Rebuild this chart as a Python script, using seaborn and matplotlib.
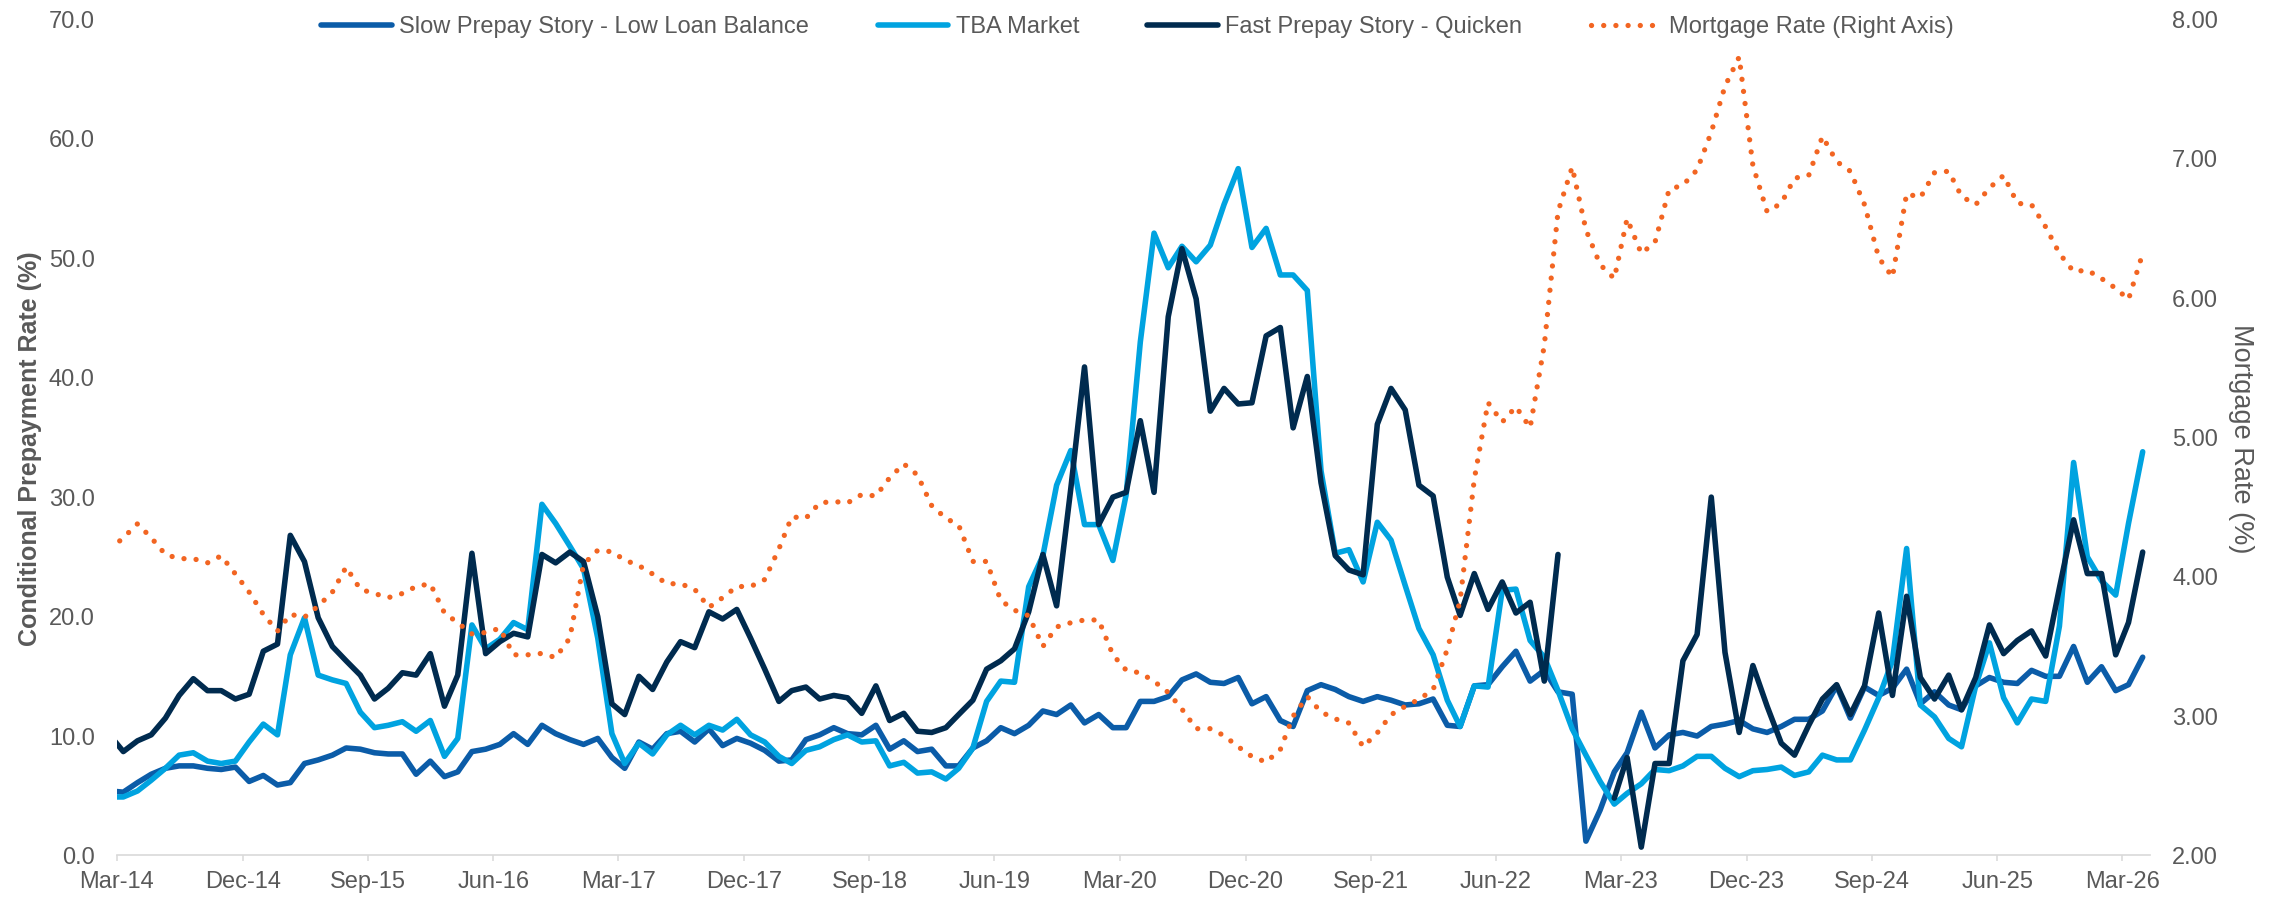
import numpy as np
import pandas as pd
import matplotlib
matplotlib.use("Agg")
import matplotlib.pyplot as plt
import matplotlib.dates as mdates
from matplotlib.ticker import FormatStrFormatter, MultipleLocator
import seaborn as sns

# monthly observations, Feb-14 .. Apr-26 (mid-month)
months = pd.date_range("2014-02-01", "2026-04-01", freq="MS") + pd.Timedelta(days=14)

slow_low_balance = [
    5.4, 5.3, 6.1, 6.8, 7.3, 7.5, 7.5, 7.3, 7.2, 7.4, 6.2, 6.7, 5.9, 6.1, 7.7, 8.0, 8.4, 9.0, 8.9, 8.6,
    8.5, 8.5, 6.8, 7.9, 6.6, 7.0, 8.7, 8.9, 9.3, 10.2, 9.3, 10.9, 10.2, 9.7, 9.3, 9.8, 8.2, 7.3, 9.5, 8.9,
    10.2, 10.4, 9.5, 10.6, 9.2, 9.8, 9.4, 8.8, 7.9, 8.0, 9.7, 10.1, 10.7, 10.2, 10.1, 10.9, 8.9, 9.6, 8.7, 8.9,
    7.5, 7.5, 9.0, 9.6, 10.7, 10.2, 10.9, 12.1, 11.8, 12.6, 11.1, 11.8, 10.7, 10.7, 12.9, 12.9, 13.3, 14.7, 15.2, 14.5,
    14.4, 14.9, 12.7, 13.3, 11.3, 10.8, 13.8, 14.3, 13.9, 13.3, 12.9, 13.3, 13.0, 12.6, 12.7, 13.1, 10.9, 10.8, 14.2, 14.3,
    15.8, 17.1, 14.6, 15.5, 13.7, 13.5, 1.2, 3.8, 7.0, 8.6, 12.0, 9.0, 10.1, 10.3, 10.0, 10.8, 11.0, 11.3, 10.6, 10.3,
    10.8, 11.4, 11.4, 12.1, 14.2, 11.5, 14.1, 13.4, 14.0, 15.6, 12.7, 13.7, 12.6, 12.2, 14.2, 14.9, 14.5, 14.4, 15.5, 15.0,
    15.0, 17.5, 14.5, 15.8, 13.8, 14.3, 16.6,
]

tba_market = [
    4.9, 4.9, 5.4, 6.3, 7.3, 8.4, 8.6, 7.9, 7.7, 7.9, 9.5, 11.0, 10.1, 16.8, 19.9, 15.1, 14.7, 14.4, 12.0, 10.7,
    10.9, 11.2, 10.4, 11.3, 8.3, 9.8, 19.3, 17.3, 18.1, 19.5, 18.9, 29.4, 27.8, 25.9, 24.0, 18.2, 10.2, 7.7, 9.4, 8.5,
    10.1, 10.9, 10.1, 10.9, 10.5, 11.4, 10.1, 9.5, 8.3, 7.7, 8.8, 9.1, 9.7, 10.1, 9.5, 9.6, 7.5, 7.8, 6.9, 7.0,
    6.4, 7.3, 9.0, 12.9, 14.6, 14.5, 22.5, 25.1, 31.0, 33.9, 27.7, 27.7, 24.7, 30.2, 43.0, 52.1, 49.2, 51.0, 49.7, 51.1,
    54.5, 57.5, 50.9, 52.5, 48.6, 48.6, 47.3, 32.2, 25.3, 25.6, 22.9, 27.9, 26.4, 22.6, 19.0, 16.8, 13.0, 10.8, 14.2, 14.1,
    22.2, 22.3, 18.0, 16.6, 13.8, 10.6, 8.4, 6.2, 4.3, 5.2, 6.0, 7.2, 7.1, 7.5, 8.3, 8.3, 7.3, 6.6, 7.1, 7.2,
    7.4, 6.7, 7.0, 8.4, 8.0, 8.0, 10.5, 13.2, 16.3, 25.7, 12.6, 11.6, 9.8, 9.1, 14.2, 17.8, 13.2, 11.1, 13.1, 12.9,
    19.2, 32.9, 25.0, 23.0, 21.8, 27.8, 33.8,
]

fast_quicken = [
    10.0, 8.7, 9.6, 10.1, 11.5, 13.4, 14.8, 13.8, 13.8, 13.1, 13.5, 17.1, 17.7, 26.8, 24.6, 19.9, 17.5, 16.3, 15.1, 13.1,
    14.0, 15.3, 15.1, 16.9, 12.5, 15.1, 25.3, 16.9, 17.9, 18.6, 18.3, 25.2, 24.5, 25.4, 24.6, 20.0, 12.7, 11.8, 15.0, 13.9,
    16.2, 17.9, 17.4, 20.4, 19.8, 20.6, 18.2, 15.6, 12.9, 13.8, 14.1, 13.1, 13.4, 13.2, 11.9, 14.2, 11.3, 11.9, 10.4, 10.3,
    10.7, 11.8, 13.0, 15.6, 16.3, 17.3, 20.4, 25.2, 20.9, 30.7, 40.9, 27.7, 30.0, 30.4, 36.4, 30.4, 45.1, 50.8, 46.6, 37.2,
    39.1, 37.8, 37.9, 43.5, 44.2, 35.8, 40.1, 31.2, 25.1, 23.9, 23.5, 36.1, 39.1, 37.3, 31.0, 30.1, 23.3, 20.1, 23.6, 20.6,
    22.9, 20.3, 21.2, 14.6, 25.2, np.nan, np.nan, np.nan, 4.8, 8.2, 0.7, 7.7, 7.7, 16.3, 18.5, 30.0, 17.0, 10.3, 15.9, 12.5,
    9.4, 8.4, 10.9, 13.1, 14.3, 11.8, 14.2, 20.3, 13.4, 21.7, 14.9, 13.1, 15.1, 12.2, 14.9, 19.3, 16.9, 18.0, 18.8, 16.7,
    22.4, 28.1, 23.6, 23.6, 16.8, 19.5, 25.4,
]

mortgage_rate = [
    4.20, 4.28, 4.38, 4.28, 4.16, 4.13, 4.13, 4.10, 4.15, 4.02, 3.89, 3.73, 3.61, 3.73, 3.71, 3.79, 3.89, 4.07, 3.91, 3.88,
    3.85, 3.88, 3.93, 3.95, 3.74, 3.67, 3.59, 3.60, 3.63, 3.44, 3.44, 3.45, 3.42, 3.56, 4.09, 4.19, 4.18, 4.12, 4.08, 4.02,
    3.95, 3.95, 3.91, 3.78, 3.85, 3.93, 3.93, 3.98, 4.20, 4.43, 4.42, 4.53, 4.54, 4.53, 4.59, 4.58, 4.71, 4.81, 4.73, 4.51,
    4.42, 4.37, 4.11, 4.11, 3.83, 3.76, 3.72, 3.50, 3.64, 3.67, 3.69, 3.69, 3.44, 3.33, 3.31, 3.25, 3.17, 3.05, 2.91, 2.91,
    2.86, 2.78, 2.71, 2.67, 2.76, 3.00, 3.14, 3.03, 2.98, 2.95, 2.78, 2.88, 3.01, 3.07, 3.12, 3.19, 3.48, 3.83, 4.70, 5.25,
    5.11, 5.22, 5.07, 5.66, 6.62, 6.94, 6.49, 6.24, 6.14, 6.57, 6.32, 6.40, 6.78, 6.81, 6.92, 7.19, 7.52, 7.73, 6.95, 6.62,
    6.68, 6.86, 6.88, 7.16, 6.98, 6.91, 6.67, 6.29, 6.15, 6.75, 6.72, 6.90, 6.91, 6.73, 6.67, 6.79, 6.88, 6.68, 6.67, 6.51,
    6.32, 6.19, 6.20, 6.14, 6.07, 5.99, 6.32,
]

tick_dates = pd.date_range("2014-03-01", "2026-03-01", freq="9MS")

df = pd.DataFrame({
    "date": months,
    "slow": slow_low_balance,
    "tba": tba_market,
    "fast": fast_quicken,
    "mortgage": mortgage_rate,
})

GREY = "#595959"
C_SLOW = "#0B5CA8"
C_TBA = "#00A3E0"
C_FAST = "#002B4F"
C_RATE = "#F26522"

sns.set_theme(style="white")
plt.rcParams["font.family"] = ["Liberation Sans", "DejaVu Sans"]

fig, ax = plt.subplots(figsize=(22.79, 8.99), dpi=100)
fig.subplots_adjust(left=0.0513, right=0.9434, bottom=0.0484, top=0.9785)
ax2 = ax.twinx()

lw = 4.0
sns.lineplot(data=df, x="date", y="slow", ax=ax, color=C_SLOW, lw=lw, label="Slow Prepay Story - Low Loan Balance", legend=False)
sns.lineplot(data=df, x="date", y="tba", ax=ax, color=C_TBA, lw=lw, label="TBA Market", legend=False)

# the fast series has a gap in late 2022, draw each continuous run separately
fast = df[["date", "fast"]].copy()
fast["run"] = fast["fast"].isna().cumsum()
first = True
for _, seg in fast.dropna().groupby("run"):
    sns.lineplot(data=seg, x="date", y="fast", ax=ax, color=C_FAST, lw=lw,
                 label="Fast Prepay Story - Quicken" if first else None, legend=False)
    first = False

sns.lineplot(data=df, x="date", y="mortgage", ax=ax2, color=C_RATE, lw=3.8,
             label="Mortgage Rate (Right Axis)", legend=False)
for ln in ax2.lines:
    ln.set_dashes([0.01, 2.3])
    ln.set_dash_capstyle("round")

# axes ranges and ticks
ax.set_xlim(pd.Timestamp("2014-03-01"), pd.Timestamp("2026-05-01"))
ax.set_ylim(0, 70)
ax2.set_ylim(2, 8)
ax.yaxis.set_major_locator(MultipleLocator(10))
ax2.yaxis.set_major_locator(MultipleLocator(1))
ax.yaxis.set_major_formatter(FormatStrFormatter("%.1f"))
ax2.yaxis.set_major_formatter(FormatStrFormatter("%.2f"))
ax.set_xticks(tick_dates)
ax.xaxis.set_major_formatter(mdates.DateFormatter("%b-%y"))

for a in (ax, ax2):
    for s in a.spines.values():
        s.set_visible(False)
    a.grid(False)
ax.spines["bottom"].set_visible(True)
ax.spines["bottom"].set_color("#D9D9D9")
ax.spines["bottom"].set_linewidth(1.2)

ax.tick_params(axis="x", bottom=True, length=4.5, width=1.1, color="#D9D9D9",
               labelsize=17, labelcolor=GREY, pad=7)
ax.tick_params(axis="y", left=False, length=0, labelsize=17, labelcolor=GREY, pad=16)
ax2.tick_params(axis="y", right=False, length=0, labelsize=17, labelcolor=GREY, pad=16)

ax.set_xlabel("")
ax.set_ylabel("Conditional Prepayment Rate (%)", fontsize=18, fontweight="bold", color=GREY)
ax.yaxis.set_label_coords(-0.037, 0.487)
ax2.set_ylabel("Mortgage Rate (%)", fontsize=19.5, color=GREY, rotation=270, va="center")
ax2.yaxis.set_label_coords(1.0448, 0.498)

handles = ax.get_lines() + ax2.get_lines()
handles = [h for h in handles if not h.get_label().startswith("_")]
fig.legend(handles=handles, labels=[h.get_label() for h in handles], loc="center",
           bbox_to_anchor=(0.4991, 0.970), ncol=4, frameon=False, fontsize=17,
           labelcolor=GREY, handlelength=3.0, handletextpad=0.3, columnspacing=2.9)

fig.savefig("out.png", dpi=100)
